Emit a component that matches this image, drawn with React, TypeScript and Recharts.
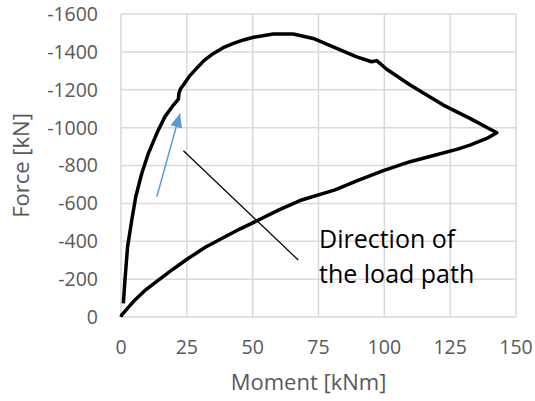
import React from 'react';
import { LineChart, Line, XAxis, YAxis, CartesianGrid, ReferenceLine } from 'recharts';

// moment [kNm] and force [kN] along the load path (loading, then unloading)
const moment = [
  0.9, 1.5, 2.5, 4.1, 5.6, 7.9, 10.4, 13.6, 16.7, 19.9, 21.8, 22.0, 22.6, 23.7, 26.0, 28.7, 31.5, 35.1, 38.8,
  42.7, 46.5, 50.3, 57.8, 65.4, 73.0, 81.9, 89.5, 95.2, 97.1, 100.9, 109.8, 122.4, 132.5, 142.7,
  138.9, 132.5, 127.5, 118.0, 109.8, 99.6, 90.0, 81.3, 68.6, 60.0, 52.2, 45.5, 39.5, 32.0, 25.6, 20.0, 14.2,
  9.5, 5.3, 0.3, 0,
];
const force = [
  -72, -195, -371, -512, -635, -759, -864, -970, -1058, -1119, -1150, -1181, -1205, -1225, -1272, -1313, -1354,
  -1392, -1422, -1445, -1463, -1477, -1494, -1494, -1471, -1418, -1374, -1348, -1354, -1308, -1225, -1119, -1049,
  -973,
  -943, -908, -885, -850, -820, -773, -722, -671, -618, -566, -512, -467, -424, -368, -310, -255, -195,
  -145, -90, -11, 0,
];

const xTicks = [0, 25, 50, 75, 100, 125, 150];
const yTicks = [-1600, -1400, -1200, -1000, -800, -600, -400, -200, 0];

// annotation segments, in data units
const arrowSeg = [{ x: 13.6, y: -635 }, { x: 22.4, y: -1075 }];
const pointerSeg = [{ x: 23.7, y: -878 }, { x: 67.3, y: -301 }];

const data = moment.map((m, i) => ({ m, f: force[i] }));

const tickStyle = { fill: '#595959', fontSize: 19.5 };

const App = () => {
  return (
    <div style={{ position: 'absolute', left: 0, top: 0, fontFamily: '"Open Sans", sans-serif' }}>
      <LineChart width={535} height={401} data={data} margin={{ top: 14, right: 19, left: 0, bottom: 0 }}>
        <defs>
          <marker id='arrowHead' viewBox='0 0 14 12' refX={14} refY={6} markerWidth={14} markerHeight={12}
            markerUnits='userSpaceOnUse' orient='auto'>
            <path d='M0,0 L14,6 L0,12 z' fill='#5b9bd5' />
          </marker>
        </defs>
        <CartesianGrid stroke='#d9d9d9' strokeWidth={1.5} />
        <XAxis
          dataKey='m'
          type='number'
          domain={[0, 150]}
          ticks={xTicks}
          axisLine={false}
          tickLine={false}
          tickSize={0}
          tickMargin={23}
          tick={tickStyle}
          height={84}
          label={{ value: 'Moment [kNm]', position: 'insideBottom', offset: 11, dx: -10, fill: '#595959', fontSize: 22 }}
        />
        <YAxis
          dataKey='f'
          type='number'
          domain={[-1600, 0]}
          reversed
          ticks={yTicks}
          axisLine={false}
          tickLine={false}
          tickSize={0}
          tickMargin={23}
          tick={tickStyle}
          width={121}
          label={{ value: 'Force [kN]', angle: -90, position: 'insideLeft', offset: 21, fill: '#595959', fontSize: 22, style: { textAnchor: 'middle' } }}
        />
        <Line type='linear' dataKey='f' stroke='#000' strokeWidth={3.5} strokeLinejoin='round' dot={false} isAnimationActive={false} />
        <ReferenceLine
          segment={arrowSeg}
          stroke='#5b9bd5'
          strokeWidth={1.5}
          shape={(p: any) => (
            <line x1={p.x1} y1={p.y1} x2={p.x2} y2={p.y2} stroke='#5b9bd5' strokeWidth={1.5} markerEnd='url(#arrowHead)' />
          )}
        />
        <ReferenceLine segment={pointerSeg} stroke='#000' strokeWidth={1.2} />
        <text x={319} y={248} fontSize={25} fill='#000'>Direction of</text>
        <text x={319} y={283} fontSize={25} fill='#000'>the load path</text>
      </LineChart>
    </div>
  );
};

export default App;
